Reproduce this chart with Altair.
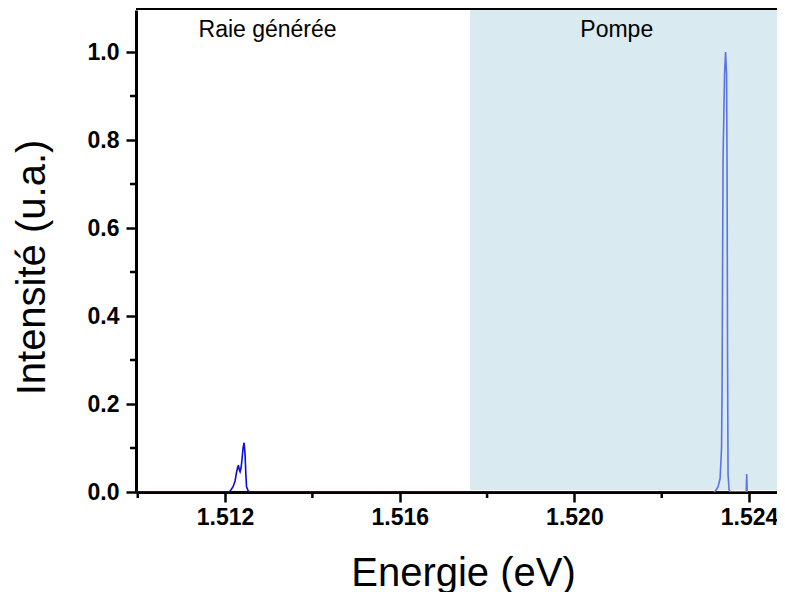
import altair as alt
import pandas as pd

# ---- data ----
gen_energy = [1.50990, 1.512092, 1.512137, 1.512183, 1.512229, 1.512263, 1.512286,
              1.512305, 1.512327, 1.512344, 1.512366, 1.512389, 1.512412, 1.512435,
              1.512458, 1.512476, 1.512492, 1.512527, 1.512561, 1.52500]
gen_intensity = [0.0, 0.0, 0.005, 0.012, 0.025, 0.045, 0.055,
                 0.061, 0.050, 0.046, 0.055, 0.075, 0.100, 0.112,
                 0.085, 0.040, 0.012, 0.003, 0.0, 0.0]

pump_energy = [1.523198, 1.523244, 1.523290, 1.523336, 1.523370, 1.523382, 1.523393,
               1.523405, 1.523439, 1.523462, 1.523485, 1.523496, 1.523508, 1.523519,
               1.523542, 1.523576, 1.523935, 1.523946, 1.523957]
pump_intensity = [0.0, 0.004, 0.012, 0.030, 0.100, 0.230, 0.500,
                  0.760, 0.950, 1.000, 0.950, 0.750, 0.300, 0.040,
                  0.005, 0.0, 0.0, 0.041, 0.0]

x_major = [1.512, 1.516, 1.520, 1.524]
x_minor = [1.510, 1.514, 1.518, 1.522]
y_major = [0.0, 0.2, 0.4, 0.6, 0.8, 1.0]
y_minor = [0.1, 0.3, 0.5, 0.7, 0.9]

region_labels = ["Raie générée", "Pompe"]
region_label_x = [1.512973, 1.520970]
region_label_y = [1.034, 1.034]

pump_band = [1.51761, 1.52464]
x_domain = [1.50996, 1.52464]
y_domain = [0.0, 1.0955]

W, H = 641, 482
FONT = "Liberation Sans"
X_TITLE = "Energie (eV)"
Y_TITLE = "Intensité (u.a.)"

gen_df = pd.DataFrame({"E": gen_energy, "I": gen_intensity})
pump_df = pd.DataFrame({"E": pump_energy, "I": pump_intensity})
band_df = pd.DataFrame({"E": [pump_band[0]], "E2": [pump_band[1]]})
xmin_df = pd.DataFrame({"E": x_minor})
ymin_df = pd.DataFrame({"I": y_minor})
lab_df = pd.DataFrame({"t": region_labels, "E": region_label_x, "I": region_label_y})

xs = alt.Scale(domain=x_domain, nice=False, zero=False)
ys = alt.Scale(domain=y_domain, nice=False, zero=False)

common_axis = dict(
    labelFont=FONT, labelFontWeight="bold", labelFontSize=23, labelColor="black",
    tickSize=10, tickWidth=2.5, tickColor="black",
    domainColor="black", domainWidth=3, grid=False,
    titleFont=FONT, titleFontSize=40, titleFontWeight="normal", titleColor="black",
    labelFlush=False, labelOverlap=False,
)

x_axis = alt.Axis(values=x_major, format=".3f", labelPadding=4,
                  titleX=327, titleY=93, titleBaseline="alphabetic", titleAlign="center",
                  **common_axis)
y_axis = alt.Axis(values=y_major, format=".1f", labelPadding=7,
                  titleX=-92, titleY=257, titleAngle=270, titleBaseline="alphabetic",
                  titleAlign="center", **common_axis)


def X():
    return alt.X("E:Q", scale=xs, axis=x_axis, title=X_TITLE)


def Y():
    return alt.Y("I:Q", scale=ys, axis=y_axis, title=Y_TITLE)


band = alt.Chart(band_df).mark_rect(color="#d9ebf0").encode(
    x=X(),
    x2="E2:Q",
    y=alt.value(0),
    y2=alt.value(H - 2),
)

gen_line = alt.Chart(gen_df).mark_line(color="#0c0cd6", strokeWidth=1.6, clip=True).encode(
    x=X(), y=Y(),
)

pump_line = alt.Chart(pump_df).mark_line(color="#5b73e6", strokeWidth=1.6, clip=True).encode(
    x=X(), y=Y(),
)

x_minor_ticks = alt.Chart(xmin_df).mark_rule(color="black", strokeWidth=2.5).encode(
    x=X(),
    y=alt.value(H),
    y2=alt.value(H + 6),
)

y_minor_ticks = alt.Chart(ymin_df).mark_rule(color="black", strokeWidth=2.5).encode(
    y=Y(),
    x=alt.value(0),
    x2=alt.value(-6),
)

top_border = alt.Chart(band_df).mark_rule(color="black", strokeWidth=3).encode(
    x=alt.value(0), x2=alt.value(W), y=alt.value(-1.5)
)

labels = alt.Chart(lab_df).mark_text(
    font=FONT, fontSize=23, color="black", align="center", baseline="alphabetic"
).encode(
    x=X(), y=Y(), text="t:N",
)

chart = alt.layer(
    band, gen_line, pump_line, x_minor_ticks, y_minor_ticks, top_border, labels
).properties(
    width=W, height=H,
    autosize=alt.AutoSizeParams(type="none"),
    padding={"left": 128, "top": 2, "right": 0, "bottom": 100},
    background="white",
).configure_view(stroke=None)

chart.save("out.html", embed_options={"renderer": "svg", "actions": False})
